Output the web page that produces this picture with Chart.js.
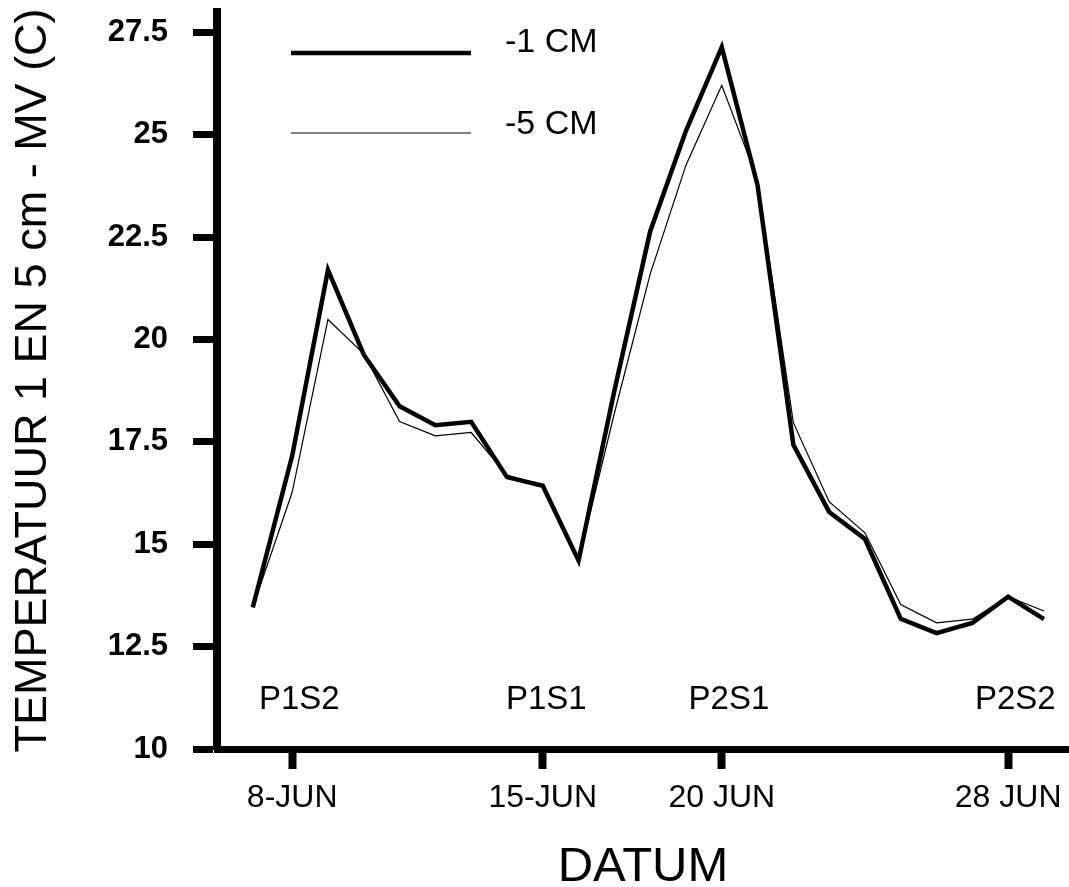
<!DOCTYPE html>
<html>
<head>
<meta charset="utf-8">
<script src="https://cdn.jsdelivr.net/npm/chart.js@4"></script>
<style>
  html, body { margin: 0; padding: 0; background: #fff; }
</style>
</head>
<body>
<canvas id="myChart" width="1069" height="887"></canvas>
<script>
// day of june for each measurement
var days = [6.9, 8, 9, 10, 11, 12, 13, 14, 15, 16, 17, 18, 19, 20, 21, 22, 23, 24, 25, 26, 27, 28, 29];
// temperature at -1 cm
var depth1 = [13.46, 17.16, 21.7, 19.63, 18.37, 17.91, 17.99, 16.64, 16.43, 14.6, 18.75, 22.64, 25.1, 27.14, 23.77, 17.43, 15.79, 15.13, 13.18, 12.83, 13.08, 13.72, 13.17];
// temperature at -5 cm
var depth5 = [13.46, 16.27, 20.49, 19.65, 18.0, 17.65, 17.73, 16.69, 16.43, 14.6, 18.2, 21.6, 24.26, 26.21, 23.9, 17.97, 16.04, 15.28, 13.53, 13.08, 13.17, 13.72, 13.37];
var seriesNames = ['-1 CM', '-5 CM'];

var tickDays = [8, 15, 20, 28];
var tickLabels = ['8-JUN', '15-JUN', '20 JUN', '28 JUN'];
var yTicks = [10, 12.5, 15, 17.5, 20, 22.5, 25, 27.5];

// period markers written inside the plot
var periodNames = ['P1S2', 'P1S1', 'P2S1', 'P2S2'];
var periodDays = [8.2, 15.1, 20.2, 28.2];
var periodLevel = 11.2;

function toPoints(values) {
  var pts = [];
  for (var i = 0; i < days.length; i++) {
    pts.push({ x: days[i], y: values[i] });
  }
  return pts;
}

// period labels, placed through the scales
var periodPlugin = {
  id: 'periods',
  afterDatasetsDraw: function(chart) {
    var ctx = chart.ctx;
    ctx.save();
    ctx.fillStyle = '#000';
    ctx.font = '33px "Liberation Sans", Arial, sans-serif';
    ctx.textAlign = 'center';
    ctx.textBaseline = 'middle';
    for (var i = 0; i < periodNames.length; i++) {
      ctx.fillText(periodNames[i], chart.scales.x.getPixelForValue(periodDays[i]), chart.scales.y.getPixelForValue(periodLevel));
    }
    ctx.restore();
  }
};

// the legend sits in the top left of the plot
var legendPlugin = {
  id: 'lineLegend',
  afterDraw: function(chart) {
    var ctx = chart.ctx;
    var rows = [{ y: 53, text: 43, width: 4.5 }, { y: 133, text: 125, width: 1.2 }];
    ctx.save();
    ctx.strokeStyle = '#000';
    ctx.fillStyle = '#000';
    ctx.font = '34px "Liberation Sans", Arial, sans-serif';
    ctx.textBaseline = 'middle';
    for (var i = 0; i < rows.length; i++) {
      ctx.lineWidth = rows[i].width;
      ctx.beginPath();
      ctx.moveTo(291, rows[i].y);
      ctx.lineTo(471, rows[i].y);
      ctx.stroke();
      ctx.fillText(chart.data.datasets[i].label, 505, rows[i].text);
    }
    ctx.restore();
  }
};

var ctx = document.getElementById('myChart');
var myChart = new Chart(ctx, {
  type: 'line',
  data: {
    datasets: [{
      label: seriesNames[0],
      data: toPoints(depth1),
      borderColor: '#000',
      borderWidth: 4.5,
      pointRadius: 0,
      tension: 0
    }, {
      label: seriesNames[1],
      data: toPoints(depth5),
      borderColor: '#000',
      borderWidth: 1.2,
      pointRadius: 0,
      tension: 0
    }]
  },
  options: {
    responsive: false,
    animation: false,
    layout: { padding: { top: 12, right: 0, left: 0, bottom: 0 } },
    plugins: {
      legend: { display: false },
      tooltip: { enabled: false }
    },
    scales: {
      x: {
        type: 'linear',
        min: 5.9,
        max: 29.7,
        afterBuildTicks: function(scale) {
          scale.ticks = tickDays.map(function(d) { return { value: d }; });
        },
        afterFit: function(scale) {
          scale.height = 138;
          scale.paddingLeft = 0;
          scale.paddingRight = 0;
        },
        ticks: {
          color: '#000',
          padding: 13,
          maxRotation: 0,
          autoSkip: false,
          font: { family: '"Liberation Sans", Arial, sans-serif', size: 32, lineHeight: 1 },
          callback: function(value) {
            var i = tickDays.indexOf(value);
            return i >= 0 ? tickLabels[i] : '';
          }
        },
        grid: {
          drawOnChartArea: false,
          drawTicks: true,
          tickLength: 20,
          tickWidth: 8,
          tickColor: '#000'
        },
        border: { display: true, color: '#000', width: 7 },
        title: {
          display: true,
          text: 'DATUM',
          color: '#000',
          padding: { top: 0, bottom: 0 },
          font: { family: '"Liberation Sans", Arial, sans-serif', size: 49, lineHeight: 0.8 }
        }
      },
      y: {
        min: 10,
        max: 28,
        afterBuildTicks: function(scale) {
          scale.ticks = yTicks.map(function(v) { return { value: v }; });
        },
        afterFit: function(scale) {
          scale.width = 217;
          scale.paddingTop = 0;
          scale.paddingBottom = 0;
        },
        ticks: {
          color: '#000',
          padding: 25,
          autoSkip: false,
          font: { family: '"Liberation Sans", Arial, sans-serif', size: 31, weight: 'bold', lineHeight: 1 },
          callback: function(value) { return String(value); }
        },
        grid: {
          drawOnChartArea: false,
          drawTicks: true,
          tickLength: 24,
          tickWidth: 7,
          tickColor: '#000'
        },
        border: { display: true, color: '#000', width: 8 },
        title: {
          display: true,
          text: 'TEMPERATUUR 1 EN 5 cm - MV (C)',
          color: '#000',
          padding: { top: 11, bottom: 0 },
          font: { family: '"Liberation Sans", Arial, sans-serif', size: 45, lineHeight: 1 }
        }
      }
    }
  },
  plugins: [periodPlugin, legendPlugin]
});
</script>
</body>
</html>
